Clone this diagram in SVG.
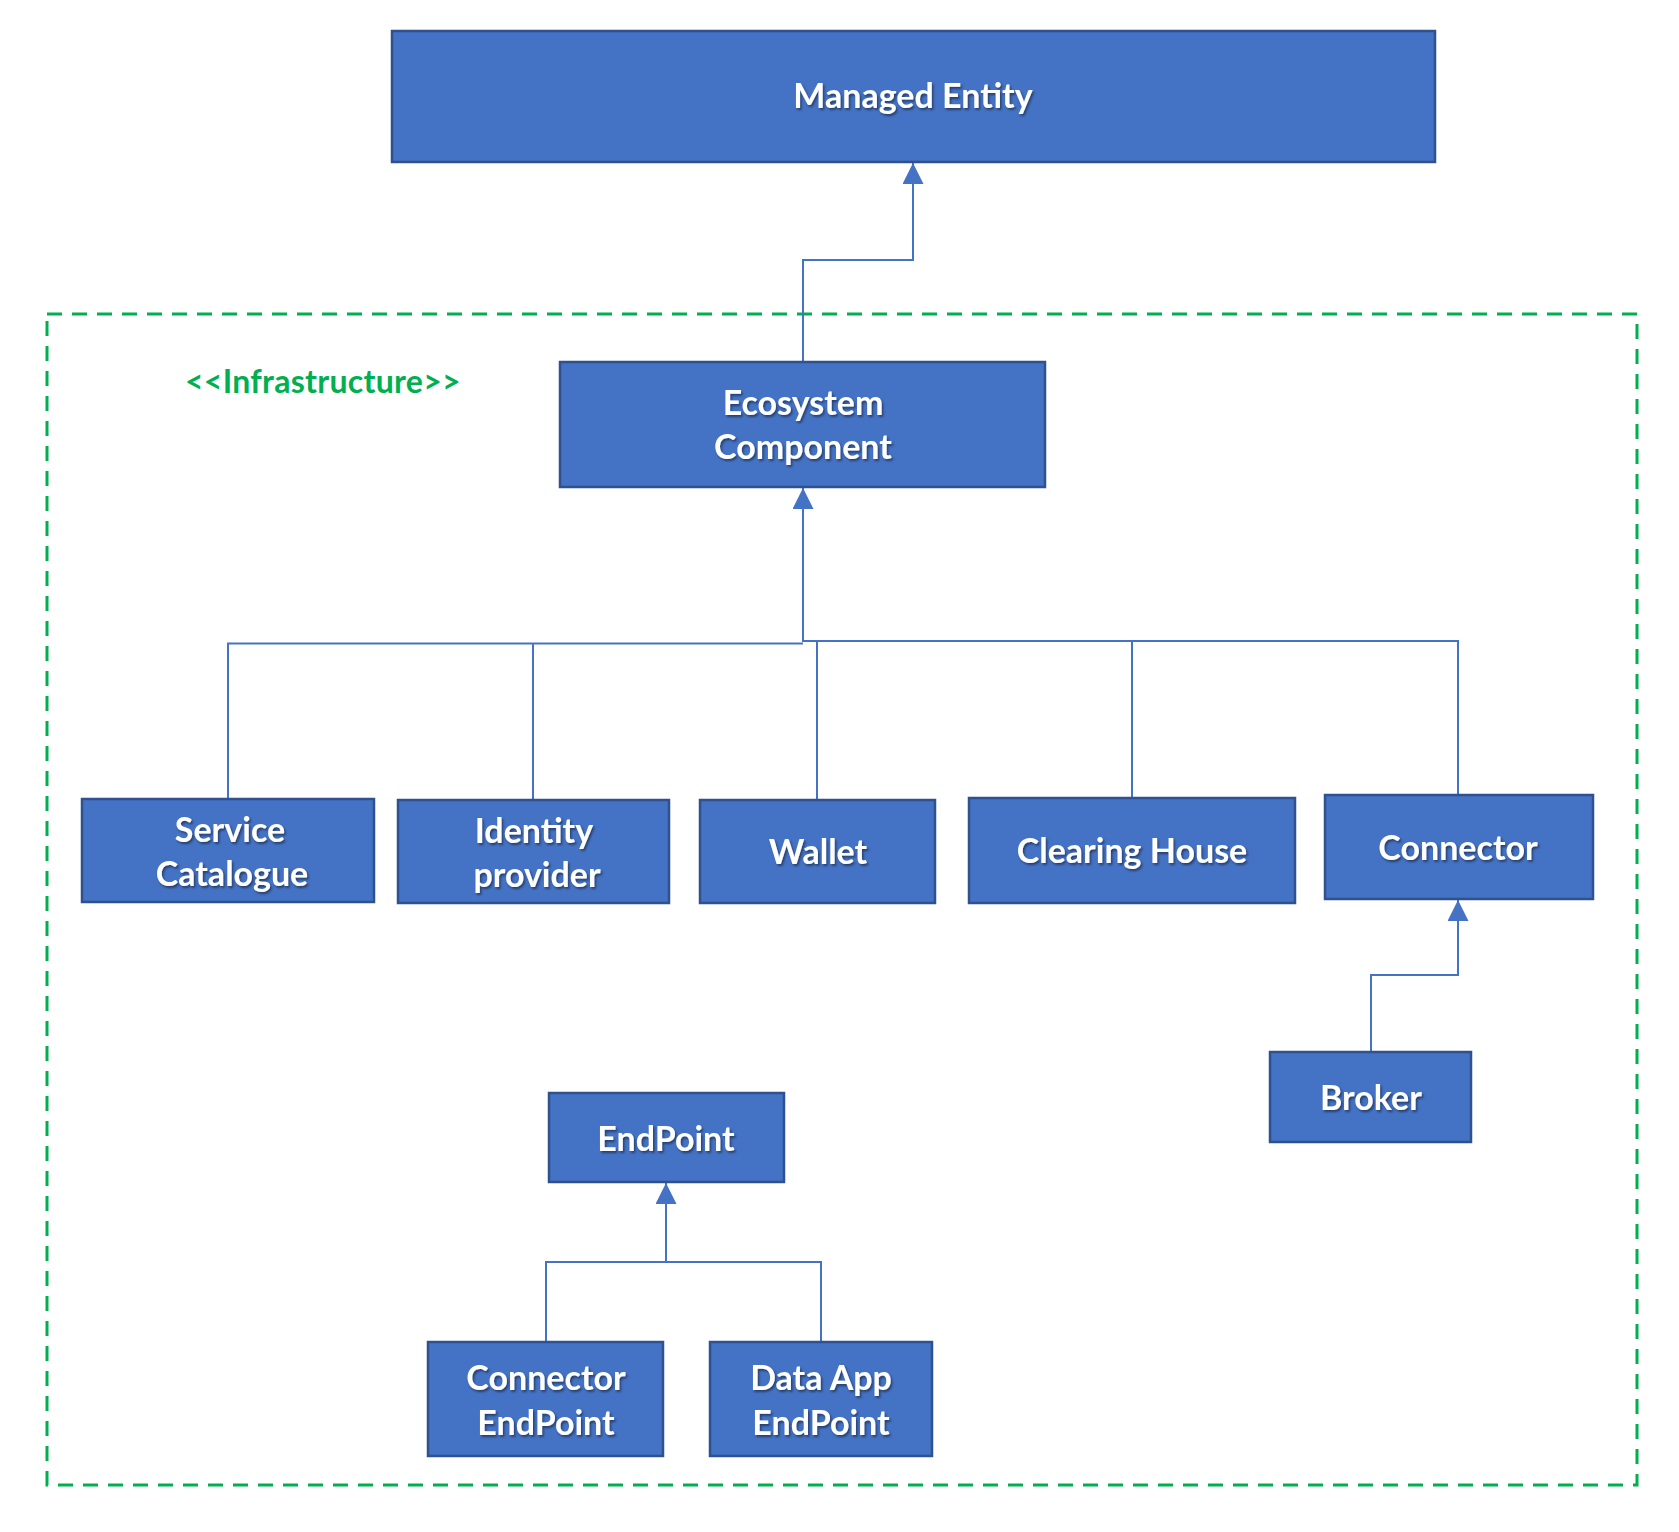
<svg xmlns="http://www.w3.org/2000/svg" width="1679" height="1532" viewBox="0 0 1679 1532">
<style>
.box{fill:#4472C4;stroke:#2F528F;stroke-width:2.5}
.lbl{font-family:Lato,"Open Sans",sans-serif;font-weight:bold;font-size:34px;fill:#FFFFFF;text-anchor:middle;filter:url(#sh)}
.ln{fill:none;stroke:#4472C4;stroke-width:2}
.frame{fill:none;stroke:#00B050;stroke-width:3;stroke-dasharray:15 10}
.stereo{font-family:Lato,"Open Sans",sans-serif;font-weight:bold;font-size:32px;fill:#00B050}
</style>
<defs>
<filter id="sh" x="-10%" y="-30%" width="120%" height="160%">
<feDropShadow dx="1.5" dy="2" stdDeviation="1.2" flood-color="#000000" flood-opacity="0.45"/>
</filter>
<marker id="tri" viewBox="0 0 20 20" refX="20" refY="10" markerWidth="21" markerHeight="21" markerUnits="userSpaceOnUse" orient="auto">
<path d="M0,0 L20,10 L0,20 Z" fill="#4472C4"/>
</marker>
</defs>
<rect width="1679" height="1532" fill="#FFFFFF"/>
<rect class="frame" x="47" y="314" width="1590" height="1171"/>
<text class="stereo" x="323" y="393" text-anchor="middle" letter-spacing="0.3">&lt;&lt;Infrastructure&gt;&gt;</text>

<g id="connectors">
<path class="ln" d="M803,362 V260 H913 V163" marker-end="url(#tri)"/>
<path class="ln" d="M803,642 V488" marker-end="url(#tri)"/>
<path class="ln" d="M228,799 V643.5 H803"/>
<path class="ln" d="M533,800 V643.5"/>
<path class="ln" d="M803,641 H1458 V795"/>
<path class="ln" d="M817,800 V641"/>
<path class="ln" d="M1132,798 V641"/>
<path class="ln" d="M1371,1052 V975 H1458 V900" marker-end="url(#tri)"/>
<path class="ln" d="M546,1342 V1262 H821 V1342"/>
<path class="ln" d="M666,1262 V1183" marker-end="url(#tri)"/>
</g>

<g id="managed-entity">
<rect class="box" x="392" y="31" width="1043" height="131"/>
<text class="lbl" x="913" y="108">Managed Entity</text>
</g>
<g id="ecosystem-component">
<rect class="box" x="560" y="362" width="485" height="125"/>
<text class="lbl" x="803" y="415">Ecosystem</text>
<text class="lbl" x="803" y="459">Component</text>
</g>
<g id="service-catalogue">
<rect class="box" x="82" y="799" width="292" height="103"/>
<text class="lbl" x="230" y="842">Service</text>
<text class="lbl" x="232" y="886">Catalogue</text>
</g>
<g id="identity-provider">
<rect class="box" x="398" y="800" width="271" height="103"/>
<text class="lbl" x="534" y="843">Identity</text>
<text class="lbl" x="537" y="887">provider</text>
</g>
<g id="wallet">
<rect class="box" x="700" y="800" width="235" height="103"/>
<text class="lbl" x="818" y="864">Wallet</text>
</g>
<g id="clearing-house">
<rect class="box" x="969" y="798" width="326" height="105"/>
<text class="lbl" x="1132" y="863">Clearing House</text>
</g>
<g id="connector">
<rect class="box" x="1325" y="795" width="268" height="104"/>
<text class="lbl" x="1458" y="860">Connector</text>
</g>
<g id="broker">
<rect class="box" x="1270" y="1052" width="201" height="90"/>
<text class="lbl" x="1371" y="1110">Broker</text>
</g>
<g id="endpoint">
<rect class="box" x="549" y="1093" width="235" height="89"/>
<text class="lbl" x="666" y="1151">EndPoint</text>
</g>
<g id="connector-endpoint">
<rect class="box" x="428" y="1342" width="235" height="114"/>
<text class="lbl" x="546" y="1390">Connector</text>
<text class="lbl" x="546" y="1435">EndPoint</text>
</g>
<g id="data-app-endpoint">
<rect class="box" x="710" y="1342" width="222" height="114"/>
<text class="lbl" x="821" y="1390">Data App</text>
<text class="lbl" x="821" y="1435">EndPoint</text>
</g>
</svg>
